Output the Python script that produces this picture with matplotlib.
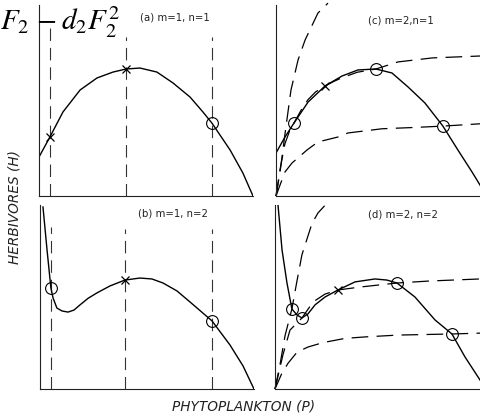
import matplotlib
matplotlib.use('Agg')
import matplotlib.pyplot as plt

plt.rcParams['mathtext.fontset'] = 'stix'
plt.rcParams['lines.scale_dashes'] = False

# (a) m=1, n=1  -- prey isocline, P and H in % of the axis
a_p = [0, 5.1, 11.2, 19.2, 27.1, 34.6, 40.7, 47.2, 55.1, 62.6, 70.6, 76.6, 80.8, 89.3, 95.3, 100]
a_h = [20.4, 30.9, 44.0, 55.5, 61.8, 64.9, 66.5, 67.0, 64.9, 59.2, 51.8, 44.0, 38.2, 24.1, 12.0, 0]
a_cross_p = [5.1, 40.7]
a_cross_h = [30.9, 66.5]
a_circ_p = [80.8]
a_circ_h = [38.2]
a_vline_p = [5.1, 40.7, 80.8]
a_vline_top = [88, 83, 83]

# (b) m=1, n=2
b_p = [1.4, 3.3, 5.1, 6.1, 7.9, 10.3, 13.1, 15.9, 18.7, 22.5, 26.6, 32.7, 39.7, 46.7, 52.3, 57.5, 64.0, 70.1, 80.4, 88.8, 94.9, 100]
b_h = [98.9, 75.5, 54.9, 49.5, 44.0, 42.4, 41.8, 42.9, 45.7, 49.3, 52.2, 56.0, 59.2, 60.3, 59.8, 57.6, 53.3, 47.3, 37.0, 23.9, 12.5, 0]
b_cross_p = [39.7]
b_cross_h = [59.2]
b_circ_p = [5.1, 80.4]
b_circ_h = [54.9, 37.0]
b_vline_p = [5.1, 39.7, 80.4]
b_vline_top = [88, 87, 87]

# (c) m=2, n=1
c_p = [0, 4.2, 8.4, 15.0, 22.9, 30.8, 38.3, 46.7, 54.2, 61.7, 69.6, 78.0, 85.0, 91.6, 95.3, 98.6]
c_h = [22.5, 30.9, 38.2, 49.2, 57.6, 62.8, 66.0, 66.5, 64.4, 57.1, 48.7, 36.6, 24.1, 12.6, 5.8, 0]
c_cross_p = [22.9]
c_cross_h = [57.6]
c_circ_p = [8.4, 46.7, 78.0]
c_circ_h = [38.2, 66.5, 36.6]
# predator isoclines (dashed)
c_steep_p = [0, 1.9, 4.2, 7.0, 10.3, 13.6, 19.6, 24.3]
c_steep_h = [0, 12.6, 32.5, 55.5, 71.2, 81.7, 95.8, 101]
c_mid_p = [0, 1.9, 4.2, 6.5, 8.4, 12, 15, 18.5, 22.9, 27, 31, 38, 46.7, 57, 73, 95.3, 100]
c_mid_h = [0, 14, 27.5, 34.5, 38.2, 45.5, 50.5, 54.5, 57.6, 60, 62, 64.8, 66.5, 70.2, 72.3, 73.3, 73.5]
c_low_p = [0, 1.9, 4.2, 7.5, 14.5, 19.6, 29, 33.6, 49.5, 65, 78, 95.3, 100]
c_low_h = [0, 5.8, 12.6, 17.3, 24.1, 28.3, 30.9, 33.0, 35.2, 35.9, 36.6, 37.8, 38]

# (d) m=2, n=2
d_p = [1.4, 3.3, 5.6, 7.9, 10.3, 12.6, 15.4, 18.7, 23.4, 29.4, 37.4, 46.7, 52.3, 57.0, 65.4, 74.8, 82.7, 88.8, 95.8, 98.6]
d_h = [100, 75.5, 57.6, 43.5, 40.2, 38.6, 40.8, 45.7, 50.0, 53.8, 58.2, 59.8, 59.2, 57.6, 50.0, 37.5, 29.9, 17.4, 4.9, 0]
d_cross_p = [29.4]
d_cross_h = [53.8]
d_circ_p = [7.9, 12.6, 57.0, 82.7]
d_circ_h = [43.5, 38.6, 57.6, 29.9]
d_steep_p = [0, 2.3, 4.7, 7.9, 10, 12.6, 17.3, 20.1, 24.8]
d_steep_h = [0, 13, 29, 43.5, 57, 73, 90, 95.7, 101.6]
d_mid_p = [0, 3.7, 7, 12.6, 17.8, 23.4, 29.4, 39.7, 57, 72.4, 95.8, 100]
d_mid_h = [0, 18.5, 32, 38.6, 47.3, 51.6, 53.8, 55.4, 57.6, 58.7, 59.8, 60]
d_low_p = [0, 3, 6.1, 10.3, 15.4, 22.4, 32.7, 42.1, 57.5, 82.7, 100]
d_low_h = [0, 8, 14, 20, 22.8, 25.2, 27.5, 28.3, 29.3, 29.9, 30.5]

fig = plt.figure(figsize=(4.8, 4.18), dpi=100)


def make_axes(rect):
    ax = fig.add_axes(rect)
    ax.set_xlim(0, 100)
    ax.set_ylim(0, 100)
    ax.spines['top'].set_visible(False)
    ax.spines['right'].set_visible(False)
    for s in ['left', 'bottom']:
        ax.spines[s].set_linewidth(0.8)
        ax.spines[s].set_color('#222222')
    ax.set_xticks([])
    ax.set_yticks([])
    ax.patch.set_alpha(0)
    return ax


def draw_marks(ax, cross_p, cross_h, circ_p, circ_h):
    ax.plot(cross_p, cross_h, 'x', color='black', ms=6, mew=0.9, clip_on=False, zorder=4)
    ax.plot(circ_p, circ_h, 'o', mfc='none', mec='black', ms=8.5, mew=0.8, clip_on=False, zorder=4)


ax_a = make_axes([0.08125, 0.5311, 0.4458, 0.4569])
ax_c = make_axes([0.575, 0.5311, 0.4458, 0.4569])
ax_b = make_axes([0.0833, 0.0694, 0.4458, 0.4402])
ax_d = make_axes([0.5729, 0.0694, 0.4458, 0.4402])

# left column: vertical dashed lines through the equilibria
for ax, vp, vt in [(ax_a, a_vline_p, a_vline_top), (ax_b, b_vline_p, b_vline_top)]:
    for p, t in zip(vp, vt):
        ax.plot([p, p], [0, t], color='#333333', lw=0.8, dashes=(9, 5))

ax_a.plot(a_p, a_h, color='black', lw=1.0)
draw_marks(ax_a, a_cross_p, a_cross_h, a_circ_p, a_circ_h)

ax_b.plot(b_p, b_h, color='black', lw=1.0)
draw_marks(ax_b, b_cross_p, b_cross_h, b_circ_p, b_circ_h)

# right column: saturating predator isoclines
for px, hy in [(c_steep_p, c_steep_h), (c_mid_p, c_mid_h), (c_low_p, c_low_h)]:
    ax_c.plot(px, hy, color='black', lw=0.9, dashes=(12, 6), clip_on=False)
ax_c.plot(c_p, c_h, color='black', lw=1.0)
draw_marks(ax_c, c_cross_p, c_cross_h, c_circ_p, c_circ_h)

for px, hy in [(d_steep_p, d_steep_h), (d_mid_p, d_mid_h), (d_low_p, d_low_h)]:
    ax_d.plot(px, hy, color='black', lw=0.9, dashes=(12, 6), clip_on=False)
ax_d.plot(d_p, d_h, color='black', lw=1.0)
draw_marks(ax_d, d_cross_p, d_cross_h, d_circ_p, d_circ_h)

lab = dict(fontsize=7.3, color='#222222', ha='left', va='center')
ax_a.text(0.472, 0.937, '(a) m=1, n=1', transform=ax_a.transAxes, **lab)
ax_b.text(0.458, 0.956, '(b) m=1, n=2', transform=ax_b.transAxes, **lab)
ax_c.text(0.43, 0.92, '(c) m=2,n=1', transform=ax_c.transAxes, **lab)
ax_d.text(0.435, 0.946, '(d) m=2, n=2', transform=ax_d.transAxes, **lab)

fig.text(15 / 480, 1 - 207 / 418, 'HERBIVORES (H)', rotation=90, style='italic',
         fontsize=9.8, ha='center', va='center', color='#222222')
fig.text(244 / 480, 1 - 407 / 418, 'PHYTOPLANKTON (P)', style='italic',
         fontsize=9.8, ha='center', va='center', color='#222222')

# fragment of the equation above the figure
fig.text(0, 1 - 30 / 418, r'$F_2\,-d_2F_2^2$', fontsize=21,
         ha='left', va='baseline', color='black')

fig.savefig('out.png', dpi=100)
